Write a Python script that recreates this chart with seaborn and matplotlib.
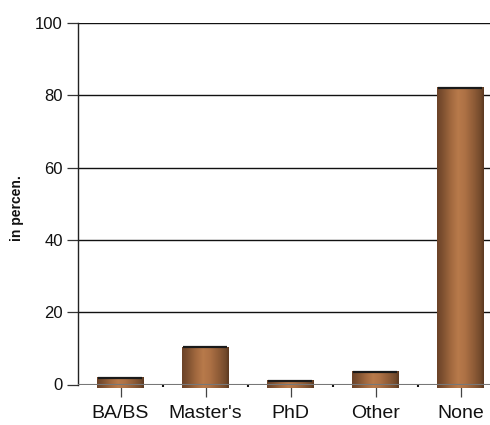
import numpy as np
import pandas as pd
import matplotlib
matplotlib.use("Agg")
import matplotlib.pyplot as plt
from matplotlib.colors import LinearSegmentedColormap
import seaborn as sns

categories = ["BA/BS", "Master's", "PhD", "Other", "None"]
values = [1.8, 10.3, 1.0, 3.5, 82.0]
y_ticks = [0, 20, 40, 60, 80, 100]

df = pd.DataFrame({"degree": categories, "pct": values})

sns.set_theme(style="white")
plt.rcParams["font.family"] = ["Liberation Sans", "DejaVu Sans"]

fig = plt.figure(figsize=(4.9, 4.25), dpi=100)
ax = fig.add_axes([78 / 490, 40.5 / 425, 1 - 78 / 490, (402 - 40.5) / 425])

sns.barplot(data=df, x="degree", y="pct", order=categories, width=0.55,
            color="#a0683e", ax=ax, zorder=3)

ax.set_ylim(0, 100)
ax.set_xlim(-0.5, 4.347)
ax.set_yticks(y_ticks)
ax.set_yticklabels([str(t) for t in y_ticks], fontsize=12, color="#111111")
ax.tick_params(axis="y", direction="out", length=8, width=0.9, color="#333333",
               pad=3, left=True)
ax.tick_params(axis="x", direction="out", length=8.5, width=0.9, color="#444444",
               pad=6, labelsize=14, bottom=True, labelcolor="#111111")
ax.set_xticks(range(len(categories)), minor=False)
ax.set_xticks([i + 0.5 for i in range(len(categories) - 1)], minor=True)
ax.tick_params(axis="x", which="minor", length=1.5, width=1.5, color="#111111",
               direction="out", bottom=True)
ax.set_xlabel("")
ax.set_ylabel("")

# horizontal gridlines
for t in y_ticks[1:]:
    ax.axhline(t, color="#111111", lw=1.0, zorder=1)
ax.axhline(0, color="#777777", lw=1.5, zorder=5)

for s in ["top", "right", "bottom"]:
    ax.spines[s].set_visible(False)
ax.spines["left"].set_color("#222222")
ax.spines["left"].set_linewidth(1.0)

# copper cylinder shading across each bar
cyl = LinearSegmentedColormap.from_list(
    "cyl",
    [(0.0, "#6b4228"), (0.12, "#7e5030"), (0.3, "#a2693f"), (0.45, "#b87a4b"),
     (0.6, "#ad7145"), (0.8, "#8c5a36"), (0.93, "#734a2c"), (1.0, "#5a3820")])
grad = np.linspace(0, 1, 256).reshape(1, -1)
for patch, v in zip(ax.patches, values):
    x0 = patch.get_x()
    w = patch.get_width()
    patch.set_y(-1.0)
    patch.set_height(v + 1.0)
    patch.set_facecolor("none")
    patch.set_edgecolor("none")
    patch.set_clip_on(False)
    im = ax.imshow(grad, cmap=cyl, aspect="auto", extent=(x0, x0 + w, -1.0, v),
                   zorder=3, clip_on=False, interpolation="bilinear")
    im.set_clip_path(patch)
    ax.hlines(v, x0 + 0.02 * w, x0 + 0.95 * w, color="#1a1a1a", lw=1.6, zorder=4)

ax.set_ylim(0, 100)
ax.set_xlim(-0.5, 4.347)

fig.text(17 / 490, 1 - 208 / 425, "in percen.", rotation=90, ha="center",
         va="center", fontsize=10, fontweight="bold", color="#111111")

fig.savefig("out.png", dpi=100)
